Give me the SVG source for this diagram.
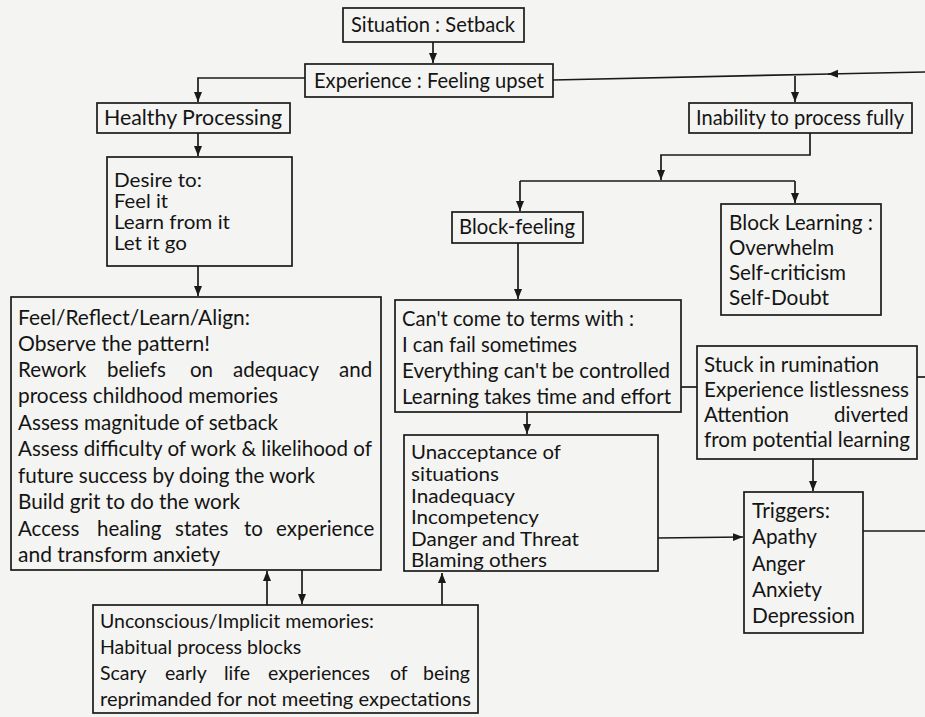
<svg xmlns="http://www.w3.org/2000/svg" width="925" height="717" viewBox="0 0 925 717">
<style>
.box{fill:none;stroke:#1a1a1a;stroke-width:1.7}
.t{font-family:Lato,"Open Sans","Liberation Sans",sans-serif;font-size:20.5px;fill:#141414}
.s{font-size:19.5px}
.d{font-size:19.5px}
.c{text-anchor:middle}
.ln{fill:none;stroke:#1a1a1a;stroke-width:1.7}
</style>
<defs>
<marker id="ah" viewBox="0 0 10 8" refX="10" refY="4" markerWidth="10" markerHeight="9" markerUnits="userSpaceOnUse" orient="auto">
<path d="M0,0 L10,4 L0,8 z" fill="#1a1a1a"/>
</marker>
</defs>
<rect x="0" y="0" width="925" height="717" fill="#f4f4f2"/>

<g id="connectors">
<path class="ln" d="M433,42 V63" marker-end="url(#ah)"/>
<path class="ln" d="M305,78 H198 V102" marker-end="url(#ah)"/>
<path class="ln" d="M925,72 L828,74" marker-end="url(#ah)"/>
<path class="ln" d="M830,74 L553,80"/>
<path class="ln" d="M795,76 V102" marker-end="url(#ah)"/>
<path class="ln" d="M810,133 V155 H661 V180" marker-end="url(#ah)"/>
<path class="ln" d="M520,181 H795"/>
<path class="ln" d="M520,181 V211" marker-end="url(#ah)"/>
<path class="ln" d="M795,181 V203" marker-end="url(#ah)"/>
<path class="ln" d="M198,133 V156" marker-end="url(#ah)"/>
<path class="ln" d="M198,266 V296" marker-end="url(#ah)"/>
<path class="ln" d="M518,243 V299" marker-end="url(#ah)"/>
<path class="ln" d="M527,412 V434" marker-end="url(#ah)"/>
<path class="ln" d="M681,387 H697"/>
<path class="ln" d="M917,377 H925"/>
<path class="ln" d="M813,459 V491" marker-end="url(#ah)"/>
<path class="ln" d="M658,538 L743,537" marker-end="url(#ah)"/>
<path class="ln" d="M863,531 H925"/>
<path class="ln" d="M267,605 V571" marker-end="url(#ah)"/>
<path class="ln" d="M302,570 V604" marker-end="url(#ah)"/>
<path class="ln" d="M442,605 V573" marker-end="url(#ah)"/>
</g>

<g id="situation">
<rect class="box" x="343" y="8" width="181" height="34"/>
<text class="t c" x="433" y="32" textLength="164" lengthAdjust="spacingAndGlyphs">Situation : Setback</text>
</g>
<g id="experience">
<rect class="box" x="305" y="64" width="248" height="33"/>
<text class="t c" x="429" y="88" textLength="230" lengthAdjust="spacingAndGlyphs">Experience : Feeling upset</text>
</g>
<g id="healthy">
<rect class="box" x="97" y="103" width="193" height="30"/>
<text class="t c" x="193" y="125" textLength="178" lengthAdjust="spacingAndGlyphs">Healthy Processing</text>
</g>
<g id="inability">
<rect class="box" x="689" y="103" width="223" height="30"/>
<text class="t c" x="800" y="125" textLength="208" lengthAdjust="spacingAndGlyphs">Inability to process fully</text>
</g>
<g id="desire">
<rect class="box" x="107" y="157" width="185" height="109"/>
<text class="t d" x="114" y="187" textLength="88" lengthAdjust="spacingAndGlyphs">Desire to:</text>
<text class="t d" x="114" y="208" textLength="54" lengthAdjust="spacingAndGlyphs">Feel it</text>
<text class="t d" x="114" y="229" textLength="116" lengthAdjust="spacingAndGlyphs">Learn from it</text>
<text class="t d" x="114" y="250" textLength="73" lengthAdjust="spacingAndGlyphs">Let it go</text>
</g>
<g id="feel">
<rect class="box" x="11" y="297" width="370" height="273"/>
<text class="t" x="18" y="325" textLength="232" lengthAdjust="spacingAndGlyphs">Feel/Reflect/Learn/Align:</text>
<text class="t" x="18" y="351" textLength="192" lengthAdjust="spacingAndGlyphs">Observe the pattern!</text>
<text class="t" y="377"><tspan x="18">Rework</tspan> <tspan x="107">beliefs</tspan> <tspan x="190">on</tspan> <tspan x="233">adequacy</tspan> <tspan x="339">and</tspan></text>
<text class="t" x="18" y="403" textLength="260" lengthAdjust="spacingAndGlyphs">process childhood memories</text>
<text class="t" x="18" y="430" textLength="260" lengthAdjust="spacingAndGlyphs">Assess magnitude of setback</text>
<text class="t" x="18" y="456" textLength="354" lengthAdjust="spacingAndGlyphs">Assess difficulty of work &amp; likelihood of</text>
<text class="t" x="18" y="483" textLength="297" lengthAdjust="spacingAndGlyphs">future success by doing the work</text>
<text class="t" x="18" y="509" textLength="222" lengthAdjust="spacingAndGlyphs">Build grit to do the work</text>
<text class="t" y="536"><tspan x="18">Access</tspan> <tspan x="97">healing</tspan> <tspan x="175">states</tspan> <tspan x="244">to</tspan> <tspan x="276">experience</tspan></text>
<text class="t" x="18" y="562" textLength="202" lengthAdjust="spacingAndGlyphs">and transform anxiety</text>
</g>
<g id="unconscious">
<rect class="box" x="93" y="605" width="385" height="108"/>
<text class="t s" x="100" y="628">Unconscious/Implicit memories:</text>
<text class="t s" x="100" y="654">Habitual process blocks</text>
<text class="t s" y="680"><tspan x="100">Scary</tspan> <tspan x="165">early</tspan> <tspan x="224">life</tspan> <tspan x="268">experiences</tspan> <tspan x="390">of</tspan> <tspan x="423">being</tspan></text>
<text class="t s" x="100" y="706" textLength="371" lengthAdjust="spacingAndGlyphs">reprimanded for not meeting expectations</text>
</g>
<g id="blockfeeling">
<rect class="box" x="452" y="212" width="131" height="31"/>
<text class="t c" x="517" y="234" textLength="116" lengthAdjust="spacingAndGlyphs">Block-feeling</text>
</g>
<g id="blocklearning">
<rect class="box" x="721" y="204" width="160" height="111"/>
<text class="t" x="729" y="230" textLength="144" lengthAdjust="spacingAndGlyphs">Block Learning :</text>
<text class="t" x="729" y="255">Overwhelm</text>
<text class="t" x="729" y="280" textLength="117" lengthAdjust="spacingAndGlyphs">Self-criticism</text>
<text class="t" x="729" y="305" textLength="100" lengthAdjust="spacingAndGlyphs">Self-Doubt</text>
</g>
<g id="cant">
<rect class="box" x="395" y="300" width="286" height="112"/>
<text class="t" x="402" y="326" textLength="232" lengthAdjust="spacingAndGlyphs">Can't come to terms with :</text>
<text class="t" x="402" y="352" textLength="175" lengthAdjust="spacingAndGlyphs">I can fail sometimes</text>
<text class="t" x="402" y="378" textLength="268" lengthAdjust="spacingAndGlyphs">Everything can't be controlled</text>
<text class="t" x="402" y="404" textLength="269" lengthAdjust="spacingAndGlyphs">Learning takes time and effort</text>
</g>
<g id="stuck">
<rect class="box" x="697" y="346" width="220" height="113"/>
<text class="t" x="704" y="372" textLength="175" lengthAdjust="spacingAndGlyphs">Stuck in rumination</text>
<text class="t" x="704" y="397" textLength="205" lengthAdjust="spacingAndGlyphs">Experience listlessness</text>
<text class="t" y="422"><tspan x="704">Attention</tspan> <tspan x="834">diverted</tspan></text>
<text class="t" x="704" y="447" textLength="206" lengthAdjust="spacingAndGlyphs">from potential learning</text>
</g>
<g id="unacceptance">
<rect class="box" x="404" y="435" width="254" height="136"/>
<text class="t d" x="411" y="459" textLength="150" lengthAdjust="spacingAndGlyphs">Unacceptance of</text>
<text class="t d" x="411" y="481" textLength="88" lengthAdjust="spacingAndGlyphs">situations</text>
<text class="t d" x="411" y="503" textLength="104" lengthAdjust="spacingAndGlyphs">Inadequacy</text>
<text class="t d" x="411" y="524" textLength="128" lengthAdjust="spacingAndGlyphs">Incompetency</text>
<text class="t d" x="411" y="546" textLength="168" lengthAdjust="spacingAndGlyphs">Danger and Threat</text>
<text class="t d" x="411" y="567" textLength="136" lengthAdjust="spacingAndGlyphs">Blaming others</text>
</g>
<g id="triggers">
<rect class="box" x="744" y="492" width="119" height="141"/>
<text class="t" x="752" y="518" textLength="78" lengthAdjust="spacingAndGlyphs">Triggers:</text>
<text class="t" x="752" y="544" textLength="65" lengthAdjust="spacingAndGlyphs">Apathy</text>
<text class="t" x="752" y="571" textLength="53" lengthAdjust="spacingAndGlyphs">Anger</text>
<text class="t" x="752" y="597" textLength="70" lengthAdjust="spacingAndGlyphs">Anxiety</text>
<text class="t" x="752" y="623" textLength="103" lengthAdjust="spacingAndGlyphs">Depression</text>
</g>
</svg>
